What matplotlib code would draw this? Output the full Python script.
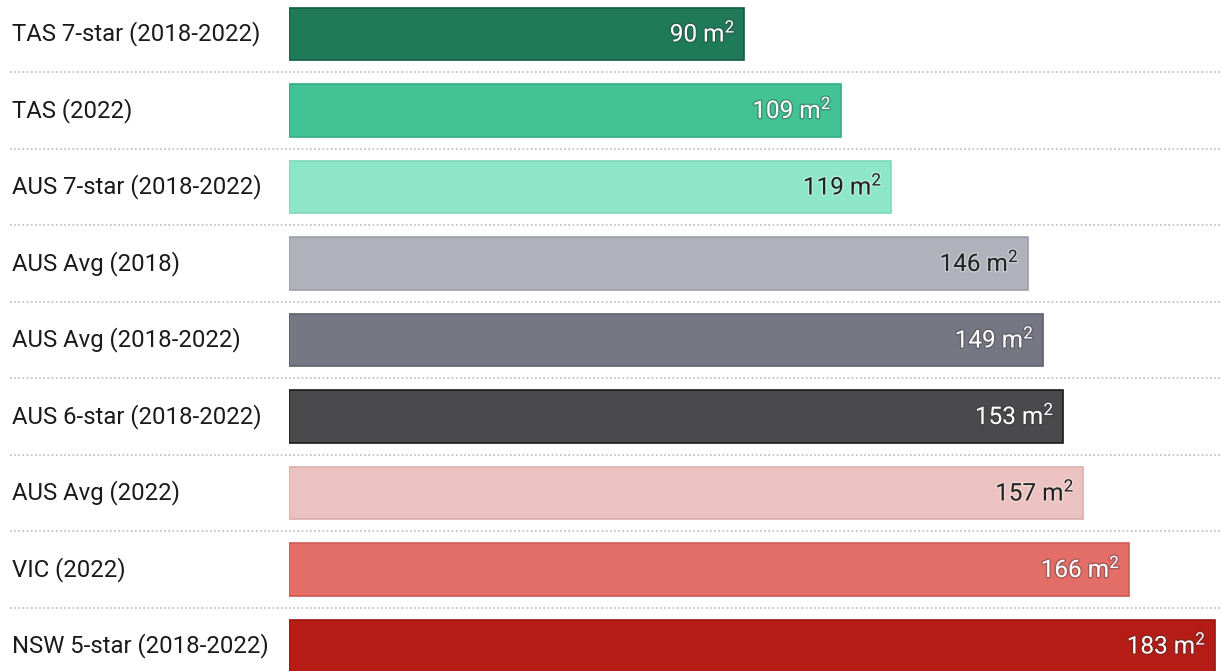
import numpy as np
import matplotlib
matplotlib.use('Agg')
import matplotlib.pyplot as plt
import matplotlib.patheffects as pe
from matplotlib.transforms import blended_transform_factory

plt.rcParams['font.family'] = ['Roboto', 'DejaVu Sans']
plt.rcParams['mathtext.fontset'] = 'custom'
plt.rcParams['mathtext.rm'] = 'Roboto'
plt.rcParams['mathtext.it'] = 'Roboto'

labels = ['TAS 7-star (2018-2022)', 'TAS (2022)', 'AUS 7-star (2018-2022)',
          'AUS Avg (2018)', 'AUS Avg (2018-2022)', 'AUS 6-star (2018-2022)',
          'AUS Avg (2022)', 'VIC (2022)', 'NSW 5-star (2018-2022)']
values = [90, 109, 119, 146, 149, 153, 157, 166, 183]
colors = ['#1f7a5a', '#42c295', '#8ee6c9', '#b0b1bb', '#777683',
          '#4a4a4c', '#ebc2c0', '#e36e68', '#b51c16']
edges = ['#145c40', '#35ad84', '#7fd8b9', '#9c9da8', '#5f5e6c',
         '#1a1a1a', '#dcaeac', '#cf5a54', '#9c1410']
text_dark = [False, False, True, True, False, False, True, False, False]

W, H = 1221, 671
fig = plt.figure(figsize=(W / 100, H / 100), dpi=100)
x0 = 289 / W
ax = fig.add_axes([x0, 0, 1 - x0, 1])

y = np.arange(len(values))
ax.barh(y, values, height=0.68, color=colors, edgecolor=edges, linewidth=1.2, zorder=2)

scale = (1215 - 289) / 183.0
ax.set_xlim(0, (W - 289) / scale)
row = 76.5
ax.set_ylim((H - 34) / row, -34 / row)
ax.axis('off')

tr = blended_transform_factory(fig.transFigure, ax.transData)
for i in range(len(values)):
    ax.text(12 / W, i, labels[i], transform=tr, ha='left', va='center',
            fontsize=17.2, color='#1a1a1a')
    if i < len(values) - 1:
        ax.plot([10 / W, 1], [i + 0.5, i + 0.5], transform=tr, clip_on=False,
                color='#bbbbbb', linestyle=(0, (1, 1.5)), linewidth=1.2)
    if text_dark[i]:
        tc, sc = '#222222', 'white'
    else:
        tc, sc = 'white', '#333333'
    t = ax.text(values[i] - 9 / scale, i, '%d m$^{2}$' % values[i], ha='right',
                va='center', fontsize=17.5, color=tc, zorder=3)
    t.set_path_effects([pe.withStroke(linewidth=2, foreground=sc, alpha=0.35)])

fig.savefig('out.png', dpi=100)
